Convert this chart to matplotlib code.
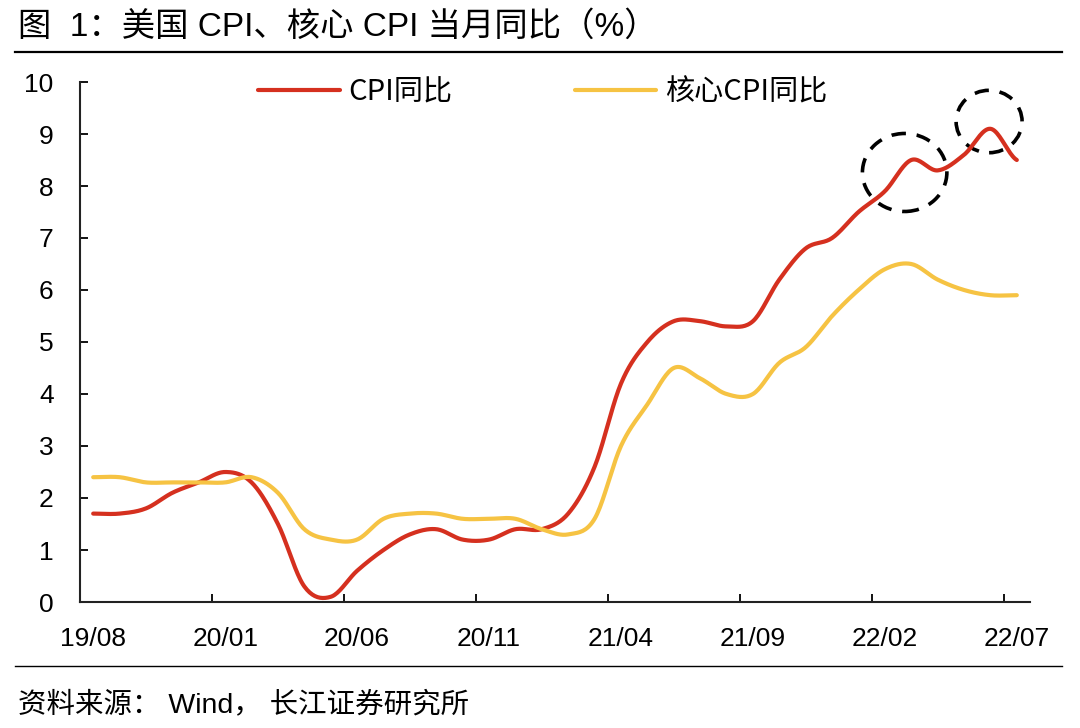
import numpy as np
import matplotlib
matplotlib.use('Agg')
import matplotlib.pyplot as plt
from matplotlib.patches import Ellipse
from matplotlib.lines import Line2D

plt.rcParams['font.family'] = ['Liberation Sans', 'Noto Sans CJK SC', 'DejaVu Sans']

# months 2019/08 .. 2022/07
months = ['19/08', '19/09', '19/10', '19/11', '19/12',
          '20/01', '20/02', '20/03', '20/04', '20/05', '20/06', '20/07', '20/08', '20/09', '20/10', '20/11', '20/12',
          '21/01', '21/02', '21/03', '21/04', '21/05', '21/06', '21/07', '21/08', '21/09', '21/10', '21/11', '21/12',
          '22/01', '22/02', '22/03', '22/04', '22/05', '22/06', '22/07']
cpi = [1.7, 1.7, 1.8, 2.1, 2.3,
       2.5, 2.3, 1.5, 0.3, 0.1, 0.6, 1.0, 1.3, 1.4, 1.2, 1.2, 1.4,
       1.4, 1.7, 2.6, 4.2, 5.0, 5.4, 5.4, 5.3, 5.4, 6.2, 6.8, 7.0,
       7.5, 7.9, 8.5, 8.3, 8.6, 9.1, 8.5]
core_cpi = [2.4, 2.4, 2.3, 2.3, 2.3,
            2.3, 2.4, 2.1, 1.4, 1.2, 1.2, 1.6, 1.7, 1.7, 1.6, 1.6, 1.6,
            1.4, 1.3, 1.6, 3.0, 3.8, 4.5, 4.3, 4.0, 4.0, 4.6, 4.9, 5.5,
            6.0, 6.4, 6.5, 6.2, 6.0, 5.9, 5.9]
tick_labels = months[::5]
circled = ['22/03', '22/06']


def smooth(y, n=20):
    # catmull-rom style smoothing, like an Excel "smoothed line"
    y = np.asarray(y, dtype=float)
    x = np.arange(len(y), dtype=float)
    p = np.concatenate([[y[0]], y, [y[-1]]])
    xs, ys = [], []
    t = np.linspace(0, 1, n, endpoint=False)
    for i in range(len(y) - 1):
        p0, p1, p2, p3 = p[i], p[i + 1], p[i + 2], p[i + 3]
        seg = 0.5 * ((2 * p1) + (-p0 + p2) * t + (2 * p0 - 5 * p1 + 4 * p2 - p3) * t ** 2
                     + (-p0 + 3 * p1 - 3 * p2 + p3) * t ** 3)
        xs.append(x[i] + t)
        ys.append(seg)
    xs.append([x[-1]])
    ys.append([y[-1]])
    return np.concatenate(xs), np.concatenate(ys)


fig = plt.figure(figsize=(10.8, 7.28), dpi=100)
ax = fig.add_axes([80 / 1080, 1 - 602 / 728, 950 / 1080, 520 / 728])

red = '#D5301F'
yellow = '#F6C343'
xs, ys = smooth(cpi)
ax.plot(xs, ys, color=red, lw=3, solid_capstyle='round', label='CPI同比')
xs, ys = smooth(core_cpi)
ax.plot(xs, ys, color=yellow, lw=3, solid_capstyle='round', label='核心CPI同比')

# dashed circles around the two peaks
i1 = months.index(circled[0])
i2 = months.index(circled[1])
ax.add_patch(Ellipse((i1 - 0.25, cpi[i1] - 0.24), 3.2, 1.5, fill=False,
                     ls=(0, (4, 3)), lw=2.6, ec='black'))
ax.add_patch(Ellipse((i2 - 0.05, cpi[i2] + 0.14), 2.5, 1.2, fill=False,
                     ls=(0, (4, 3)), lw=2.6, ec='black'))

ax.set_xlim(-0.5, len(months) - 0.5)
ax.set_ylim(0, 10)
ax.set_yticks(range(0, 11))
ax.set_xticks(range(0, len(months), 5))
ax.set_xticklabels(tick_labels)
ax.set_xticks(np.arange(4.5, len(months), 5), minor=True)
ax.tick_params(axis='x', which='major', length=0, pad=18, labelsize=19)
ax.tick_params(axis='x', which='minor', direction='in', length=6, width=1.3)
ax.tick_params(axis='y', direction='in', length=6, width=1.3, pad=19, labelsize=19)
for s in ['top', 'right']:
    ax.spines[s].set_visible(False)
for s in ['left', 'bottom']:
    ax.spines[s].set_linewidth(1.5)
    ax.spines[s].set_color('#222222')

ax.legend(loc='upper center', bbox_to_anchor=(0.487, 1.06), ncol=2, frameon=False,
          handlelength=2.8, columnspacing=4.2, handletextpad=0.3,
          prop={'family': ['Noto Sans CJK SC'], 'size': 21})

fig.text(18 / 1080, 1 - 27 / 728, '图  1：美国 CPI、核心 CPI 当月同比（%）', fontsize=24,
         va='center', ha='left')
fig.add_artist(Line2D([15 / 1080, 1062 / 1080], [1 - 52 / 728] * 2, color='black', lw=1.6))
fig.add_artist(Line2D([15 / 1080, 1062 / 1080], [1 - 666 / 728] * 2, color='black', lw=1.0))
fig.text(18 / 1080, 1 - 705 / 728, '资料来源： Wind， 长江证券研究所', fontsize=20.5,
         va='center', ha='left')

fig.savefig('out.png', dpi=100)
